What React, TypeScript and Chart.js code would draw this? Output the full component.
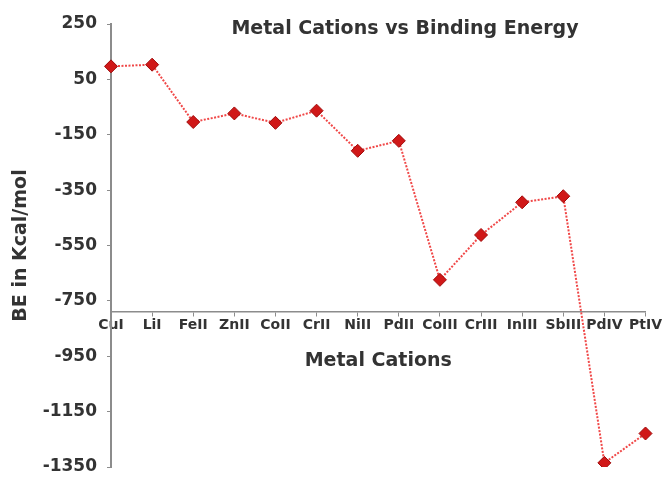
import React, { useEffect, useRef } from "react";
import { Chart, registerables } from "chart.js";

Chart.register(...registerables);

const categories = ["CuI", "LiI", "FeII", "ZnII", "CoII", "CrII", "NiII", "PdII", "CoIII", "CrIII", "InIII", "SbIII", "PdIV", "PtIV"];
const bindingEnergy = [97, 103, -104, -73, -107, -63, -208, -172, -674, -512, -394, -372, -1335, -1229];
const yTickValues = [-1350, -1150, -950, -750, -550, -350, -150, 50, 250];
const xAxisCrossing = -790;
const chartTitle = "Metal Cations vs Binding Energy";
const xTitle = "Metal Cations";
const yTitle = "BE in Kcal/mol";

const FONT = '"DejaVu Sans", sans-serif';
const TEXT = "#333333";
const AXIS = "#8c8c8c";

const titlePlugin = {
  id: "innerTitle",
  afterDraw(chart: any) {
    const ctx = chart.ctx;
    ctx.save();
    ctx.font = `bold 19px ${FONT}`;
    ctx.fillStyle = TEXT;
    ctx.textAlign = "center";
    ctx.textBaseline = "middle";
    ctx.fillText(chartTitle, 405, 29);
    ctx.restore();
  },
};

export default function App() {
  const ref = useRef<HTMLCanvasElement | null>(null);
  useEffect(() => {
    if (!ref.current) return;
    const chart = new Chart(ref.current, {
      type: "line",
      data: {
        labels: categories,
        datasets: [
          {
            data: bindingEnergy,
            borderColor: "#f04848",
            borderWidth: 2,
            borderDash: [2, 1.5],
            pointStyle: "rectRot",
            pointRadius: 6.5,
            pointBackgroundColor: "#d01818",
            pointBorderColor: "#a00a0a",
            pointBorderWidth: 1,
            tension: 0,
          },
        ],
      },
      options: {
        responsive: false,
        animation: false,
        layout: { padding: { top: 24, bottom: 10, right: 17, left: 0 } },
        plugins: { legend: { display: false }, tooltip: { enabled: false } },
        scales: {
          x: {
            type: "category",
            position: { y: xAxisCrossing } as any,
            offset: false,
            afterFit: (s: any) => {
              s.paddingTop = 0;
              s.paddingBottom = 0;
            },
            grid: { drawOnChartArea: false, drawTicks: true, tickLength: 4, color: AXIS },
            border: { color: AXIS, width: 1.5 },
            ticks: {
              autoSkip: false,
              maxRotation: 0,
              padding: 1,
              color: TEXT,
              font: { family: FONT, weight: "bold", size: 14 },
            },
            title: {
              display: true,
              text: xTitle,
              color: TEXT,
              font: { family: FONT, weight: "bold", size: 19 },
              padding: { top: 15, bottom: 0 },
            },
          },
          y: {
            min: -1350,
            max: 250,
            afterBuildTicks: (s: any) => {
              s.ticks = yTickValues.map((v) => ({ value: v }));
            },
            afterFit: (s: any) => {
              s.width = 111;
              s.paddingTop = 0;
              s.paddingBottom = 0;
            },
            grid: { drawOnChartArea: false, drawTicks: true, tickLength: 4, color: AXIS },
            border: { color: AXIS, width: 2 },
            ticks: {
              padding: 10,
              color: TEXT,
              font: { family: FONT, weight: "bold", size: 17 },
              callback: (v: any) => String(v),
            },
            title: {
              display: true,
              text: yTitle,
              color: TEXT,
              font: { family: FONT, weight: "bold", size: 19 },
              padding: { top: 10, bottom: 0 },
            },
          },
        },
      },
      plugins: [titlePlugin],
    });
    return () => chart.destroy();
  }, []);
  return (
    <div style={{ position: "absolute", left: 0, top: 0, width: 663, height: 477, background: "#fff" }}>
      <canvas ref={ref} width={663} height={477} style={{ display: "block" }} />
    </div>
  );
}
